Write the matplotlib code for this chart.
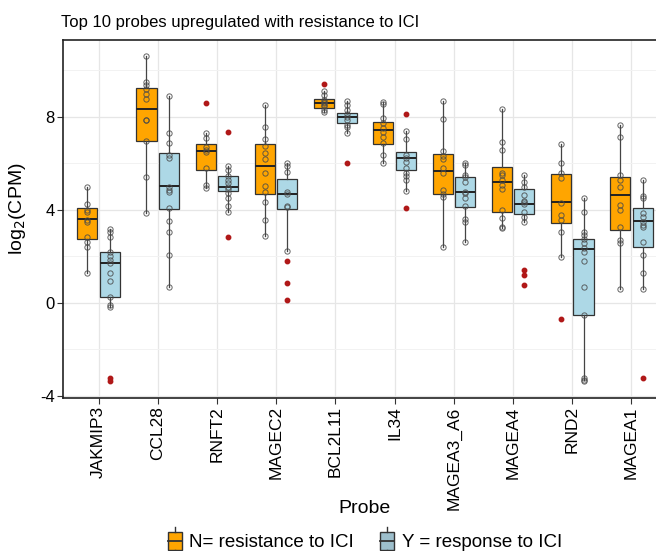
import matplotlib
matplotlib.use("Agg")
import matplotlib.pyplot as plt
from matplotlib.patches import Patch, Rectangle
from matplotlib.lines import Line2D
from matplotlib.legend_handler import HandlerBase

plt.rcParams['font.family'] = ['Liberation Sans', 'DejaVu Sans']
plt.rcParams['axes.unicode_minus'] = False

probes = ["JAKMIP3", "CCL28", "RNFT2", "MAGEC2", "BCL2L11",
          "IL34", "MAGEA3_A6", "MAGEA4", "RND2", "MAGEA1"]

# box stats: (lower whisker, q1, median, q3, upper whisker)
n_box = [(1.28, 2.74, 3.60, 4.07, 5.00),
         (3.86, 6.97, 8.33, 9.26, 10.64),
         (4.93, 5.72, 6.54, 6.82, 7.30),
         (2.88, 4.67, 5.89, 6.82, 8.50),
         (8.23, 8.37, 8.59, 8.76, 9.13),
         (6.04, 6.84, 7.44, 7.80, 8.66),
         (2.42, 4.69, 5.68, 6.41, 8.70),
         (3.24, 3.89, 5.22, 5.83, 8.34),
         (1.96, 3.43, 4.33, 5.55, 6.84),
         (0.62, 3.13, 4.63, 5.42, 7.64)]
y_box = [(-0.16, 0.27, 1.73, 2.21, 3.17),
         (0.70, 4.04, 5.03, 6.44, 8.92),
         (3.90, 4.82, 5.00, 5.46, 5.89),
         (2.25, 4.04, 4.67, 5.33, 6.01),
         (7.30, 7.73, 7.99, 8.19, 8.69),
         (4.82, 5.72, 6.22, 6.48, 7.41),
         (2.64, 4.12, 4.79, 5.43, 6.04),
         (3.50, 3.83, 4.26, 4.90, 5.51),
         (-3.31, -0.52, 2.32, 2.74, 4.50),
         (0.59, 2.42, 3.53, 4.10, 5.29)]

# outliers (red dots)
n_out = [[], [], [8.59], [], [9.42], [], [], [], [-0.69], []]
y_out = [[-3.22, -3.34], [], [7.34, 2.84], [1.82, 0.85, 0.11], [6.04],
         [8.11, 4.10], [], [1.42, 1.18, 0.77], [], [-3.24]]

# individual samples (open circles)
n_pts = [[5.0, 4.24, 4.0, 3.93, 3.57, 3.5, 2.85, 2.64, 2.39, 1.28],
         [10.64, 9.52, 9.38, 9.19, 8.99, 8.77, 7.87, 7.85, 6.97, 5.43, 3.86],
         [7.3, 7.08, 6.7, 6.56, 6.5, 5.79, 5.06, 4.93],
         [8.5, 7.58, 7.04, 6.75, 6.46, 6.18, 5.58, 5.03, 4.78, 4.36, 3.57, 2.88],
         [9.13, 8.94, 8.74, 8.66, 8.59, 8.52, 8.45, 8.31, 8.23],
         [8.66, 8.56, 7.94, 7.72, 7.51, 7.37, 7.13, 6.87, 6.37, 6.04],
         [8.7, 7.9, 6.54, 6.3, 6.18, 5.8, 5.58, 4.86, 4.69, 4.57, 2.42],
         [8.34, 6.94, 6.58, 5.6, 5.5, 5.29, 5.08, 4.89, 4.0, 3.64, 3.28, 3.24],
         [6.84, 6.04, 5.58, 5.36, 4.29, 3.78, 3.57, 3.07, 1.96],
         [7.64, 7.15, 5.51, 5.29, 5.0, 4.21, 4.0, 3.28, 2.71, 2.57, 0.62]]
y_pts = [[3.17, 3.07, 2.85, 2.21, 2.03, 1.85, 1.73, 1.28, 0.95, 0.27, -0.09, -0.16],
         [8.92, 7.3, 6.87, 6.37, 6.22, 5.0, 4.85, 4.78, 4.1, 3.53, 3.03, 2.06, 0.70],
         [5.89, 5.72, 5.46, 5.29, 5.14, 5.0, 4.89, 4.72, 4.5, 4.19, 3.9],
         [6.01, 5.87, 5.65, 4.78, 4.68, 4.18, 4.14, 2.25],
         [8.69, 8.52, 8.31, 8.14, 7.99, 7.87, 7.66, 7.56, 7.3],
         [7.41, 7.07, 6.37, 6.22, 6.08, 5.79, 5.58, 5.44, 5.29, 4.82],
         [6.04, 5.94, 5.51, 5.41, 5.22, 4.79, 4.72, 4.5, 4.15, 3.61, 3.5, 2.64],
         [5.51, 5.19, 5.0, 4.65, 4.39, 4.32, 4.26, 3.93, 3.71, 3.5],
         [4.5, 3.93, 3.07, 2.93, 2.74, 2.56, 2.35, 2.2, 1.82, 0.70, -0.52, -3.25, -3.31, -3.38],
         [5.29, 4.6, 4.5, 3.86, 3.71, 3.5, 3.36, 3.26, 2.64, 2.06, 1.3, 0.59]]

orange = "#FFA500"
blue = "#ADD8E6"
edge = "#333333"


def make_stats(boxes, outs):
    res = []
    for b, o in zip(boxes, outs):
        res.append(dict(whislo=b[0], q1=b[1], med=b[2], q3=b[3], whishi=b[4], fliers=o))
    return res


class BoxKey(HandlerBase):
    # ggplot-like legend key: box + median + whisker stubs
    def create_artists(self, legend, orig_handle, xdescent, ydescent,
                       width, height, fontsize, trans):
        x0, y0 = -xdescent, -ydescent
        fc = orig_handle.get_facecolor()
        box = Rectangle((x0, y0 + 0.18 * height), width, 0.64 * height,
                        facecolor=fc, edgecolor=edge, lw=1.0, transform=trans)
        med = Line2D([x0, x0 + width], [y0 + 0.5 * height] * 2, color=edge, lw=1.3, transform=trans)
        w1 = Line2D([x0 + width / 2] * 2, [y0 + 0.82 * height, y0 + height], color=edge, lw=1.0, transform=trans)
        w2 = Line2D([x0 + width / 2] * 2, [y0, y0 + 0.18 * height], color=edge, lw=1.0, transform=trans)
        return [box, med, w1, w2]


fig = plt.figure(figsize=(6.56, 5.51), dpi=100)
ax = fig.add_axes([63 / 656, 153 / 551, 604 / 656, 358 / 551])

x = list(range(len(probes)))
off = 0.19
bw = 0.34

for boxes, outs, pts, sign, col in [(n_box, n_out, n_pts, -1, orange), (y_box, y_out, y_pts, 1, blue)]:
    pos = [i + sign * off for i in x]
    ax.bxp(make_stats(boxes, outs), positions=pos, widths=bw, patch_artist=True,
           showcaps=False, showfliers=True,
           boxprops=dict(facecolor=col, edgecolor=edge, lw=0.9),
           medianprops=dict(color="#222222", lw=1.4),
           whiskerprops=dict(color="#444444", lw=0.9),
           flierprops=dict(marker="o", markersize=3.2, markerfacecolor="#B01818",
                           markeredgecolor="#B01818", linestyle="none"),
           zorder=2)
    for p, vals in zip(pos, pts):
        ax.plot([p] * len(vals), vals, "o", markersize=3.8, markerfacecolor="none",
                markeredgecolor="#4a4a4a", markeredgewidth=0.7, alpha=0.85, zorder=3)

ax.set_xlim(-0.6, len(probes) - 0.4)
ax.set_ylim(-4.09, 11.31)
ax.set_xticks(x)
ax.set_xticklabels(probes, rotation=90, fontsize=12.5)
ax.set_yticks([-4, 0, 4, 8])
ax.set_yticks([-2, 2, 6, 10], minor=True)
ax.tick_params(axis="y", labelsize=12, length=4, color="#333333", pad=2)
ax.tick_params(axis="x", length=4, color="#333333", pad=2)
ax.tick_params(axis="y", which="minor", length=0)

ax.grid(True, which="major", color="#E6E6E6", lw=0.9, zorder=0)
ax.grid(True, which="minor", axis="y", color="#F2F2F2", lw=0.7, zorder=0)
ax.set_axisbelow(True)
for s in ax.spines.values():
    s.set_color("#222222")
    s.set_linewidth(1.2)

ax.set_ylabel(r"log$_2$(CPM)", fontsize=14)
ax.yaxis.set_label_coords(-0.058, 0.53)
ax.set_xlabel("Probe", fontsize=14)
ax.xaxis.set_label_coords(0.5, -0.285)

fig.text(61 / 656, 1 - 27 / 551, "Top 10 probes upregulated with resistance to ICI",
         fontsize=12, va="baseline", ha="left")

handles = [Patch(facecolor=orange), Patch(facecolor="#9DBFCC")]
fig.legend(handles, ["N= resistance to ICI", "Y = response to ICI"],
           handler_map={Patch: BoxKey()}, loc="center",
           bbox_to_anchor=(365 / 656, 10 / 551), ncol=2, frameon=False,
           fontsize=13.5, handlelength=0.75, handleheight=2.0,
           handletextpad=0.4, columnspacing=1.4)

fig.savefig("out.png", dpi=100)
